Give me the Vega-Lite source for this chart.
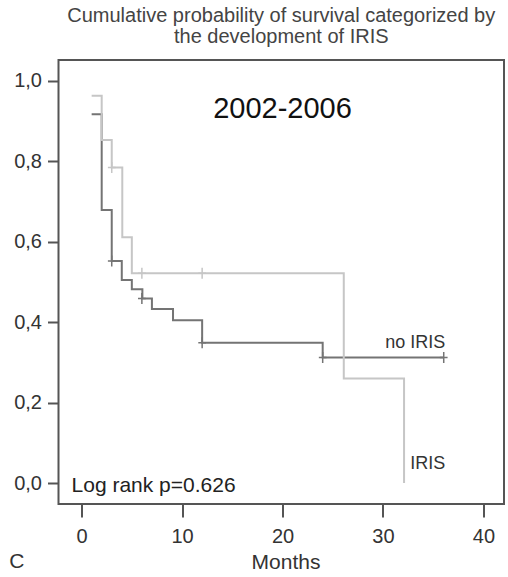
{
  "$schema": "https://vega.github.io/schema/vega-lite/v6.json",
  "autosize": "none",
  "padding": {"left": 58.5, "top": 60, "right": 4, "bottom": 73},
  "width": 445.5,
  "height": 444,
  "background": "white",
  "config": {
    "font": "Liberation Sans",
    "view": {"stroke": "#555555", "strokeWidth": 2}
  },
  "title": {
    "text": ["Cumulative probability of survival categorized by", "the development of IRIS"],
    "fontSize": 20,
    "fontWeight": "normal",
    "color": "#444444",
    "lineHeight": 21,
    "offset": 13,
    "anchor": "middle"
  },
  "datasets": {
    "curves": [
      {"group": "no IRIS", "t": 1.0, "s": 0.917},
      {"group": "no IRIS", "t": 2.0, "s": 0.679},
      {"group": "no IRIS", "t": 3.0, "s": 0.552},
      {"group": "no IRIS", "t": 4.0, "s": 0.505},
      {"group": "no IRIS", "t": 5.0, "s": 0.482},
      {"group": "no IRIS", "t": 6.05, "s": 0.459},
      {"group": "no IRIS", "t": 7.0, "s": 0.433},
      {"group": "no IRIS", "t": 9.1, "s": 0.405},
      {"group": "no IRIS", "t": 12.0, "s": 0.349},
      {"group": "no IRIS", "t": 24.0, "s": 0.312},
      {"group": "no IRIS", "t": 36.05, "s": 0.312},
      {"group": "IRIS", "t": 1.0, "s": 0.963},
      {"group": "IRIS", "t": 2.0, "s": 0.853},
      {"group": "IRIS", "t": 3.0, "s": 0.785},
      {"group": "IRIS", "t": 4.05, "s": 0.611},
      {"group": "IRIS", "t": 5.0, "s": 0.522},
      {"group": "IRIS", "t": 26.1, "s": 0.26},
      {"group": "IRIS", "t": 32.1, "s": 0.0}
    ],
    "censors": [
      {"group": "no IRIS", "t": 3.0, "s": 0.552},
      {"group": "no IRIS", "t": 6.0, "s": 0.459},
      {"group": "no IRIS", "t": 12.0, "s": 0.349},
      {"group": "no IRIS", "t": 24.0, "s": 0.312},
      {"group": "no IRIS", "t": 36.05, "s": 0.312},
      {"group": "IRIS", "t": 3.0, "s": 0.785},
      {"group": "IRIS", "t": 6.0, "s": 0.522},
      {"group": "IRIS", "t": 12.0, "s": 0.522}
    ],
    "curvelabels": [
      {"label": "no IRIS", "t": 36.2, "s": 0.335},
      {"label": "IRIS", "t": 36.2, "s": 0.034}
    ],
    "period": [
      {"label": "2002-2006", "t": 20.0, "s": 0.907}
    ],
    "logrank": [
      {"label": "Log rank p=0.626", "t": -1.0, "s": -0.023}
    ],
    "panel": [
      {"label": "C", "t": -7.2, "s": -0.211}
    ]
  },
  "encoding": {
    "x": {
      "field": "t",
      "type": "quantitative",
      "scale": {"domain": [-2.3, 42.05], "nice": false, "zero": false},
      "axis": {
        "values": [0, 10, 20, 30, 40],
        "domain": false,
        "grid": false,
        "tickSize": 13,
        "tickWidth": 2,
        "tickColor": "#555555",
        "labelFontSize": 20,
        "labelColor": "#333333",
        "labelPadding": 9,
        "title": "Months",
        "titleFontSize": 21,
        "titleFontWeight": "normal",
        "titleColor": "#333333",
        "titlePadding": 5,
        "titleX": 227
      }
    },
    "y": {
      "field": "s",
      "type": "quantitative",
      "scale": {"domain": [-0.052, 1.052], "nice": false, "zero": false},
      "axis": {
        "values": [0, 0.2, 0.4, 0.6, 0.8, 1.0],
        "labelExpr": "replace(format(datum.value, '.1f'), '.', ',')",
        "domain": false,
        "grid": false,
        "tickSize": 11,
        "tickWidth": 2,
        "tickColor": "#555555",
        "labelFontSize": 20,
        "labelColor": "#333333",
        "labelPadding": 6,
        "title": null
      }
    }
  },
  "layer": [
    {
      "data": {"name": "curves"},
      "mark": {"type": "line", "interpolate": "step-after", "strokeWidth": 2},
      "encoding": {
        "color": {
          "field": "group",
          "type": "nominal",
          "scale": {"domain": ["no IRIS", "IRIS"], "range": ["#747474", "#c6c6c6"]},
          "legend": null
        }
      }
    },
    {
      "data": {"name": "censors"},
      "mark": {"type": "point", "shape": "M0,-1L0,1M-0.7,0L0.7,0", "filled": false, "strokeWidth": 1.5, "size": 121, "opacity": 1},
      "encoding": {
        "color": {
          "field": "group",
          "type": "nominal",
          "scale": {"domain": ["no IRIS", "IRIS"], "range": ["#747474", "#c6c6c6"]},
          "legend": null
        }
      }
    },
    {
      "data": {"name": "curvelabels"},
      "mark": {"type": "text", "align": "right", "baseline": "alphabetic", "fontSize": 18, "color": "#333333"},
      "encoding": {"text": {"field": "label", "type": "nominal"}}
    },
    {
      "data": {"name": "period"},
      "mark": {"type": "text", "align": "center", "baseline": "alphabetic", "fontSize": 29, "color": "#111111"},
      "encoding": {"text": {"field": "label", "type": "nominal"}}
    },
    {
      "data": {"name": "logrank"},
      "mark": {"type": "text", "align": "left", "baseline": "alphabetic", "fontSize": 21, "color": "#222222"},
      "encoding": {"text": {"field": "label", "type": "nominal"}}
    },
    {
      "data": {"name": "panel"},
      "mark": {"type": "text", "align": "left", "baseline": "alphabetic", "fontSize": 21, "color": "#333333"},
      "encoding": {"text": {"field": "label", "type": "nominal"}}
    }
  ]
}
